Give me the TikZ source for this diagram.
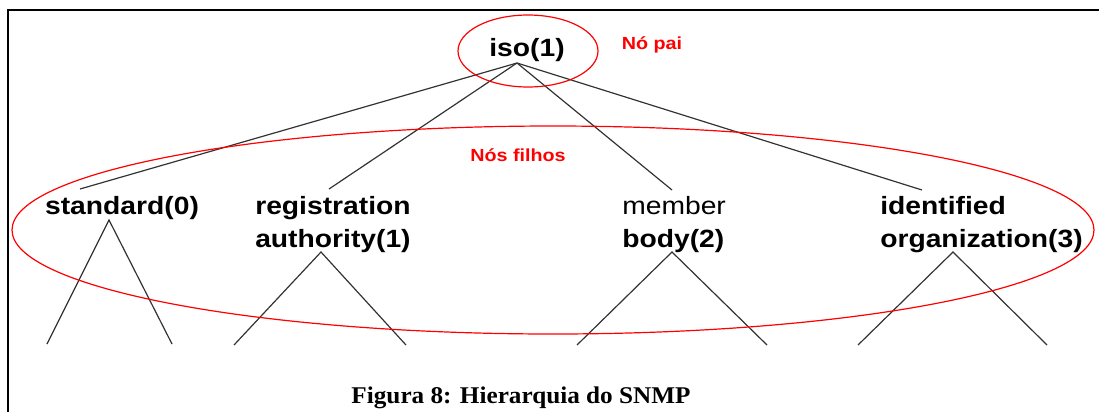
\documentclass[tikz,border=0pt]{standalone}
\usepackage{fontspec}
\setmainfont{Liberation Serif}
\newfontfamily\labelfont[FakeStretch=1.13]{Liberation Sans}
\newfontfamily\capfont[FakeStretch=1.05]{Liberation Serif}
\begin{document}
\begin{tikzpicture}[x=0.75pt,y=-0.75pt,
  lbl/.style={inner sep=0pt, font=\labelfont\fontsize{18.75}{24.75}\selectfont\bfseries, align=left},
  note/.style={inner sep=0pt, text=red, font=\labelfont\fontsize{13.1}{16}\selectfont\bfseries},
  edge/.style={draw=black!80, line width=0.9pt},
  ring/.style={draw=red, line width=0.9pt},
  frame/.style={draw=black, line width=1.4pt}]
\useasboundingbox (0,0) rectangle (1099,412);

% page frame (top and left rules)
\draw[frame] (8,412) -- (8,10) -- (1099,10);

% root and children labels
\node[lbl] (iso) at (527,50) {iso(1)};
\node[lbl] (std) at (122,208) {standard(0)};
\node[lbl, anchor=west] (reg) at (255,225) {registration\\authority(1)};
\node[lbl, anchor=west] (mem) at (622,225) {{\mdseries member}\\body(2)};
\node[lbl, anchor=west] (idf) at (880,225) {identified\\organization(3)};

% attachment points of the tree edges
\coordinate (isoTip) at (517,63);
\coordinate (stdTop) at (80,189);
\coordinate (regTop) at (329,189);
\coordinate (memTop) at (672,190);
\coordinate (idfTop) at (922,190);
\coordinate (stdTip) at (109,220);
\coordinate (regTip) at (321,252);
\coordinate (memTip) at (672,252);
\coordinate (idfTip) at (953,252);
\coordinate (stdL) at (47,344);  \coordinate (stdR) at (172,344);
\coordinate (regL) at (234,345); \coordinate (regR) at (406,345);
\coordinate (memL) at (577,345); \coordinate (memR) at (767,345);
\coordinate (idfL) at (858,345); \coordinate (idfR) at (1047,345);

% edges from the root
\draw[edge] (isoTip) -- (stdTop);
\draw[edge] (isoTip) -- (regTop);
\draw[edge] (isoTip) -- (memTop);
\draw[edge] (isoTip) -- (idfTop);

% subtrees below each child
\draw[edge] (stdL) -- (stdTip) -- (stdR);
\draw[edge] (regL) -- (regTip) -- (regR);
\draw[edge] (memL) -- (memTip) -- (memR);
\draw[edge] (idfL) -- (idfTip) -- (idfR);

% highlighted groups
\draw[ring] (528,51) ellipse [x radius=70, y radius=36];
\draw[ring] (553,230) ellipse [x radius=541, y radius=104];
\node[note] (pai) at (652,45) {Nó pai};
\node[note] (filhos) at (518,155) {Nós filhos};

% caption
\node[inner sep=0pt, font=\capfont\fontsize{18}{22}\selectfont\bfseries] (cap) at (521,398) {Figura 8: Hierarquia do SNMP};
\end{tikzpicture}
\end{document}
